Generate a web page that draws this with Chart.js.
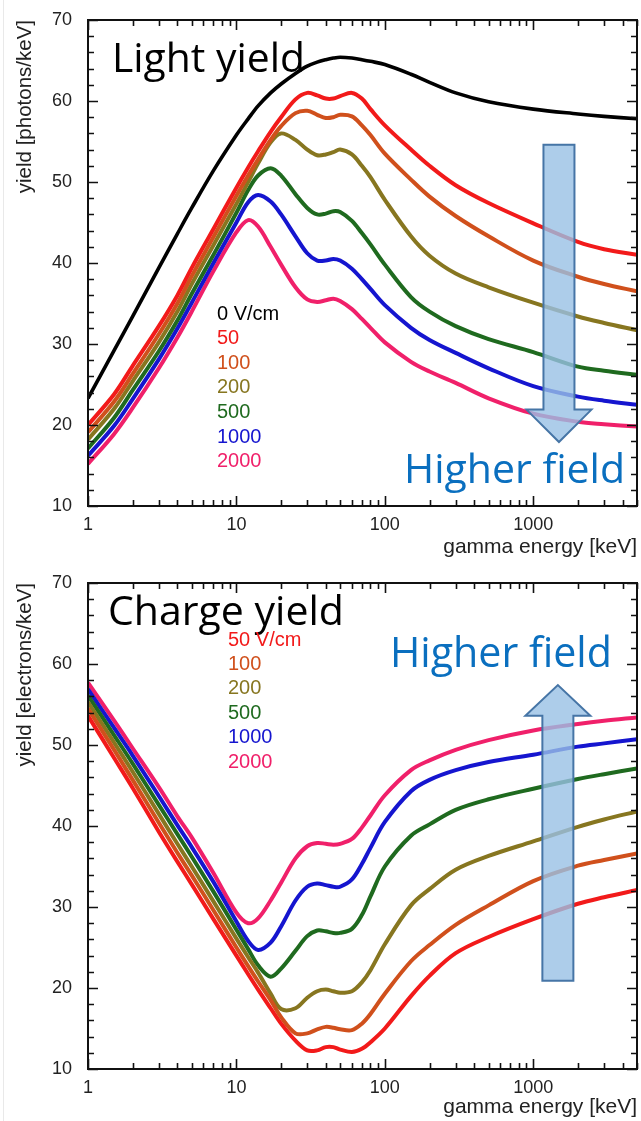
<!DOCTYPE html>
<html>
<head>
<meta charset="utf-8">
<title>Light and charge yield vs gamma energy</title>
<script src="https://cdn.jsdelivr.net/npm/chart.js@4.4.0/dist/chart.umd.min.js"></script>
<style>
  html, body { margin: 0; padding: 0; background: #fff; }
  #wrap { position: relative; width: 641px; height: 1121px; overflow: hidden; }
  .panel { position: absolute; left: 0; width: 641px; }
  .panel canvas { display: block; }
  #edge { position: absolute; left: 3px; top: 0; width: 1px; height: 1121px; background: #e9e9e9; }
</style>
</head>
<body>
<div id="wrap">
  <div id="edge"></div>
  <div class="panel" style="top:0;height:560px"><canvas id="lightChart" width="641" height="560"></canvas></div>
  <div class="panel" style="top:560px;height:561px"><canvas id="chargeChart" width="641" height="561"></canvas></div>
</div>
<script>
// ---- data -----------------------------------------------------------------
// gamma energies (keV) at which every curve is sampled
const energyKeV = [1, 1.5, 2, 3, 4, 5, 7, 10, 12, 14, 17, 20, 25, 30, 35, 40, 45, 50, 60, 70, 80, 100, 150, 200, 300, 500, 1000, 2000, 3000, 5000];

// light yield [photons/keV] per drift field
const lightFieldLabels = ['0 V/cm', '50', '100', '200', '500', '1000', '2000'];
const light0    = [23.3, 29.2, 33.4, 39.4, 43.6, 46.8, 51.4, 55.8, 57.8, 59.4, 61.0, 62.1, 63.4, 64.3, 64.8, 65.1, 65.3, 65.4, 65.3, 65.1, 64.9, 64.5, 63.3, 62.3, 61.0, 59.9, 59.0, 58.4, 58.1, 57.8];
const light50   = [20.0, 23.8, 27.3, 32.2, 36.0, 39.4, 44.2, 49.3, 51.8, 53.8, 56.2, 58.0, 60.2, 61.0, 60.7, 60.3, 60.3, 60.6, 61.0, 60.3, 59.0, 57.0, 54.0, 52.0, 49.6, 47.4, 44.9, 42.6, 41.7, 41.0];
const light100  = [19.1, 22.9, 26.3, 31.2, 35.0, 38.4, 43.2, 48.3, 50.8, 52.8, 55.2, 56.9, 58.5, 58.8, 58.3, 57.9, 58.0, 58.3, 58.1, 57.0, 55.8, 53.5, 50.3, 48.2, 45.8, 43.3, 40.3, 38.3, 37.4, 36.5];
const light200  = [18.2, 22.0, 25.4, 30.2, 34.0, 37.4, 42.2, 47.3, 50.0, 52.3, 54.9, 56.0, 55.2, 54.0, 53.3, 53.4, 53.7, 54.0, 53.4, 52.0, 50.6, 47.8, 43.3, 40.9, 38.7, 37.0, 35.1, 33.4, 32.6, 31.7];
const light500  = [17.1, 20.9, 24.3, 29.1, 32.9, 36.2, 41.0, 46.2, 49.0, 50.8, 51.7, 50.8, 48.5, 46.8, 46.0, 46.1, 46.4, 46.3, 45.2, 43.7, 42.3, 39.8, 35.8, 34.0, 32.2, 30.6, 29.0, 27.2, 26.7, 26.2];
const light1000 = [16.2, 19.9, 23.2, 28.1, 31.9, 35.1, 40.0, 45.0, 47.5, 48.4, 47.6, 46.0, 43.3, 41.2, 40.3, 40.3, 40.5, 40.3, 39.3, 38.0, 36.8, 34.8, 32.0, 30.5, 28.9, 27.0, 24.8, 23.5, 23.0, 22.5];
const light2000 = [15.2, 18.9, 22.1, 27.0, 30.8, 34.0, 39.0, 43.8, 45.3, 44.5, 42.0, 39.8, 37.0, 35.5, 35.2, 35.4, 35.6, 35.3, 34.3, 33.1, 32.0, 30.2, 27.8, 26.6, 25.2, 23.3, 21.4, 20.4, 20.1, 19.8];

// charge yield [electrons/keV] per drift field
const chargeFieldLabels = ['50 V/cm', '100', '200', '500', '1000', '2000'];
const charge50   = [53.6, 48.4, 44.7, 39.3, 35.6, 32.8, 28.5, 24.0, 21.7, 19.8, 17.5, 15.6, 13.5, 12.3, 12.3, 12.7, 12.7, 12.4, 12.1, 12.5, 13.3, 15.0, 19.0, 21.5, 24.3, 26.3, 28.5, 30.4, 31.2, 32.1];
const charge100  = [54.5, 49.4, 45.7, 40.4, 36.7, 33.9, 29.6, 25.0, 22.7, 20.8, 18.5, 16.4, 14.4, 14.4, 14.9, 15.2, 15.1, 14.9, 14.8, 15.6, 16.8, 19.3, 23.3, 25.3, 27.8, 30.2, 33.2, 35.1, 35.8, 36.6];
const charge200  = [55.3, 50.3, 46.7, 41.5, 37.8, 35.0, 30.7, 26.1, 23.8, 21.9, 19.3, 17.4, 17.5, 18.8, 19.6, 19.8, 19.6, 19.4, 19.6, 20.7, 22.2, 25.4, 30.2, 32.2, 34.6, 36.3, 38.1, 39.9, 40.8, 41.8];
const charge500  = [56.1, 51.2, 47.7, 42.6, 39.0, 36.2, 31.9, 27.2, 24.8, 22.8, 21.4, 22.4, 24.6, 26.4, 27.1, 27.0, 26.8, 26.8, 27.3, 29.0, 31.3, 35.0, 38.8, 40.2, 42.0, 43.3, 44.6, 45.8, 46.4, 47.1];
const charge1000 = [56.9, 52.1, 48.7, 43.7, 40.1, 37.4, 33.1, 28.2, 25.8, 24.7, 25.6, 27.6, 30.8, 32.5, 32.9, 32.7, 32.5, 32.5, 33.4, 35.3, 37.3, 40.5, 44.3, 45.7, 46.9, 47.9, 48.8, 49.8, 50.2, 50.7];
const charge2000 = [57.7, 53.0, 49.6, 44.8, 41.2, 38.6, 34.2, 29.3, 28.0, 28.6, 30.8, 33.0, 36.0, 37.5, 37.9, 37.8, 37.7, 37.8, 38.4, 39.8, 41.3, 43.8, 46.9, 48.1, 49.4, 50.6, 51.8, 52.6, 53.0, 53.4];

// axis ticks
const xTickValues = [1, 2, 3, 4, 5, 6, 7, 8, 9, 10, 20, 30, 40, 50, 60, 70, 80, 90, 100, 200, 300, 400, 500, 600, 700, 800, 900, 1000, 2000, 3000, 4000, 5000];
const xTickLabels = [1, 10, 100, 1000];
const yTickLabels = [10, 20, 30, 40, 50, 60, 70];

// ---- styling ----------------------------------------------------------------
const lightColors  = ['#000000', '#f21a1a', '#d0501c', '#877620', '#1f6a1f', '#1515cf', '#f0206a'];
const chargeColors = ['#f21a1a', '#d0501c', '#877620', '#1f6a1f', '#1515cf', '#f0206a'];
const SANS = '"Liberation Sans", Arial, Helvetica, sans-serif';
const HUMANIST = '"Open Sans", "Noto Sans", sans-serif';

function toPoints(values) {
  return values.map((v, i) => ({ x: energyKeV[i], y: v }));
}

function makeDatasets(labels, series, colors) {
  return series.map((vals, i) => ({
    label: labels[i],
    data: toPoints(vals),
    borderColor: colors[i],
    backgroundColor: colors[i],
    borderWidth: colors[i] === '#000000' ? 3.6 : 4,
    pointRadius: 0,
    fill: false,
    tension: 0.35
  }));
}

// frame with inward-pointing tick marks on all four sides
const frameTicks = {
  id: 'frameTicks',
  afterDraw(chart) {
    const { ctx, chartArea: a, scales: { x, y } } = chart;
    ctx.save();
    ctx.strokeStyle = '#111';
    ctx.lineWidth = 1.6;
    ctx.beginPath();
    x.ticks.forEach(t => {
      const px = Math.round(x.getPixelForValue(t.value)) + 0.5;
      const len = xTickLabels.includes(t.value) ? 10 : 6;
      ctx.moveTo(px, a.bottom); ctx.lineTo(px, a.bottom - len);
      ctx.moveTo(px, a.top); ctx.lineTo(px, a.top + len);
    });
    y.ticks.forEach(t => {
      const py = Math.round(y.getPixelForValue(t.value)) + 0.5;
      const len = yTickLabels.includes(t.value) ? 10 : 6;
      ctx.moveTo(a.left, py); ctx.lineTo(a.left + len, py);
      ctx.moveTo(a.right, py); ctx.lineTo(a.right - len, py);
    });
    ctx.stroke();
    ctx.lineWidth = 2;
    ctx.strokeRect(a.left, a.top, a.right - a.left, a.bottom - a.top);
    ctx.restore();
  }
};

function fitText(ctx, text, x, baseline, width, family, color) {
  ctx.font = '100px ' + family;
  const size = 100 * width / ctx.measureText(text).width;
  ctx.font = size.toFixed(2) + 'px ' + family;
  ctx.fillStyle = color;
  ctx.textAlign = 'left';
  ctx.textBaseline = 'alphabetic';
  ctx.fillText(text, x, baseline);
}

// arrow, panel heading, "Higher field" note and coloured field list
const panelDecor = {
  id: 'panelDecor',
  afterDatasetsDraw(chart, args, o) {
    const { ctx, scales: { x, y } } = chart;
    const ar = o.arrow;
    const cx = x.getPixelForValue(ar.energy);
    const yTail = y.getPixelForValue(ar.tail);
    const yBase = y.getPixelForValue(ar.base);
    const yTip = y.getPixelForValue(ar.tip);
    ctx.save();
    ctx.beginPath();
    ctx.moveTo(cx - ar.shaft, yTail);
    ctx.lineTo(cx - ar.shaft, yBase);
    ctx.lineTo(cx - ar.head, yBase);
    ctx.lineTo(cx, yTip);
    ctx.lineTo(cx + ar.head, yBase);
    ctx.lineTo(cx + ar.shaft, yBase);
    ctx.lineTo(cx + ar.shaft, yTail);
    ctx.closePath();
    ctx.fillStyle = 'rgba(152, 192, 229, 0.80)';
    ctx.fill();
    ctx.lineWidth = 2;
    ctx.lineJoin = 'miter';
    ctx.strokeStyle = '#4675a6';
    ctx.stroke();
    ctx.restore();
  },
  afterDraw(chart, args, o) {
    const { ctx } = chart;
    ctx.save();
    fitText(ctx, o.heading.text, o.heading.x, o.heading.baseline, o.heading.width, HUMANIST, '#000');
    fitText(ctx, o.note.text, o.note.x, o.note.baseline, o.note.width, HUMANIST, '#0a6fbf');
    ctx.font = '20px ' + SANS;
    ctx.textAlign = 'left';
    ctx.textBaseline = 'middle';
    chart.data.datasets.forEach((ds, i) => {
      ctx.fillStyle = ds.borderColor;
      ctx.fillText(ds.label, o.legend.x, o.legend.y + i * o.legend.step);
    });
    ctx.restore();
  }
};

function makeChart(canvasId, datasets, opts) {
  return new Chart(document.getElementById(canvasId), {
    type: 'line',
    data: { datasets },
    plugins: [frameTicks, panelDecor],
    options: {
      responsive: false,
      animation: false,
      devicePixelRatio: 1,
      layout: { padding: { top: opts.padTop, right: 4, bottom: 0, left: 0 } },
      plugins: {
        legend: { display: false },
        tooltip: { enabled: false },
        panelDecor: opts.decor
      },
      scales: {
        x: {
          type: 'logarithmic',
          min: 1,
          max: 5000,
          afterBuildTicks(scale) {
            scale.ticks = xTickValues.map(v => ({ value: v, major: false }));
          },
          afterFit(scale) {
            scale.height = opts.xHeight;
            scale.paddingLeft = 0;
            scale.paddingRight = 0;
          },
          grid: { display: false, drawTicks: false },
          border: { display: false },
          ticks: {
            autoSkip: false,
            maxRotation: 0,
            minRotation: 0,
            padding: 8,
            color: '#222',
            font: { family: SANS, size: 18 },
            callback: (v) => xTickLabels.includes(v) ? String(v) : ''
          },
          title: {
            display: true,
            text: 'gamma energy [keV]',
            align: 'end',
            color: '#222',
            font: { family: SANS, size: 21 },
            padding: { top: 0, bottom: opts.xTitlePad }
          }
        },
        y: {
          type: 'linear',
          min: 10,
          max: 70,
          afterFit(scale) {
            scale.width = 88;
            scale.paddingTop = 0;
            scale.paddingBottom = 0;
          },
          grid: { display: false, drawTicks: false },
          border: { display: false },
          ticks: {
            stepSize: 2,
            autoSkip: false,
            padding: 16,
            color: '#222',
            font: { family: SANS, size: 18 },
            callback: (v) => yTickLabels.includes(v) ? String(v) : ''
          },
          title: {
            display: true,
            text: opts.yTitle,
            align: 'end',
            color: '#222',
            font: { family: SANS, size: 20.5 },
            padding: { top: 13, bottom: 0 }
          }
        }
      }
    }
  });
}

makeChart('lightChart',
  makeDatasets(lightFieldLabels, [light0, light50, light100, light200, light500, light1000, light2000], lightColors),
  {
    padTop: 20, xHeight: 54, xTitlePad: 0,
    yTitle: 'yield [photons/keV]',
    decor: {
      heading: { text: 'Light yield', x: 112, baseline: 72, width: 193 },
      note: { text: 'Higher field', x: 404, baseline: 483, width: 221 },
      legend: { x: 217, y: 314, step: 24.6 },
      arrow: { energy: 1490, tail: 54.6, base: 21.9, tip: 17.9, shaft: 15.5, head: 32.5 }
    }
  });

makeChart('chargeChart',
  makeDatasets(chargeFieldLabels, [charge50, charge100, charge200, charge500, charge1000, charge2000], chargeColors),
  {
    padTop: 23, xHeight: 52, xTitlePad: 1,
    yTitle: 'yield [electrons/keV]',
    decor: {
      heading: { text: 'Charge yield', x: 108, baseline: 65, width: 236 },
      note: { text: 'Higher field', x: 390, baseline: 107, width: 222 },
      legend: { x: 228, y: 80, step: 24.4 },
      arrow: { energy: 1465, tail: 20.9, base: 53.6, tip: 57.4, shaft: 15.5, head: 32.5 }
    }
  });
</script>
</body>
</html>
